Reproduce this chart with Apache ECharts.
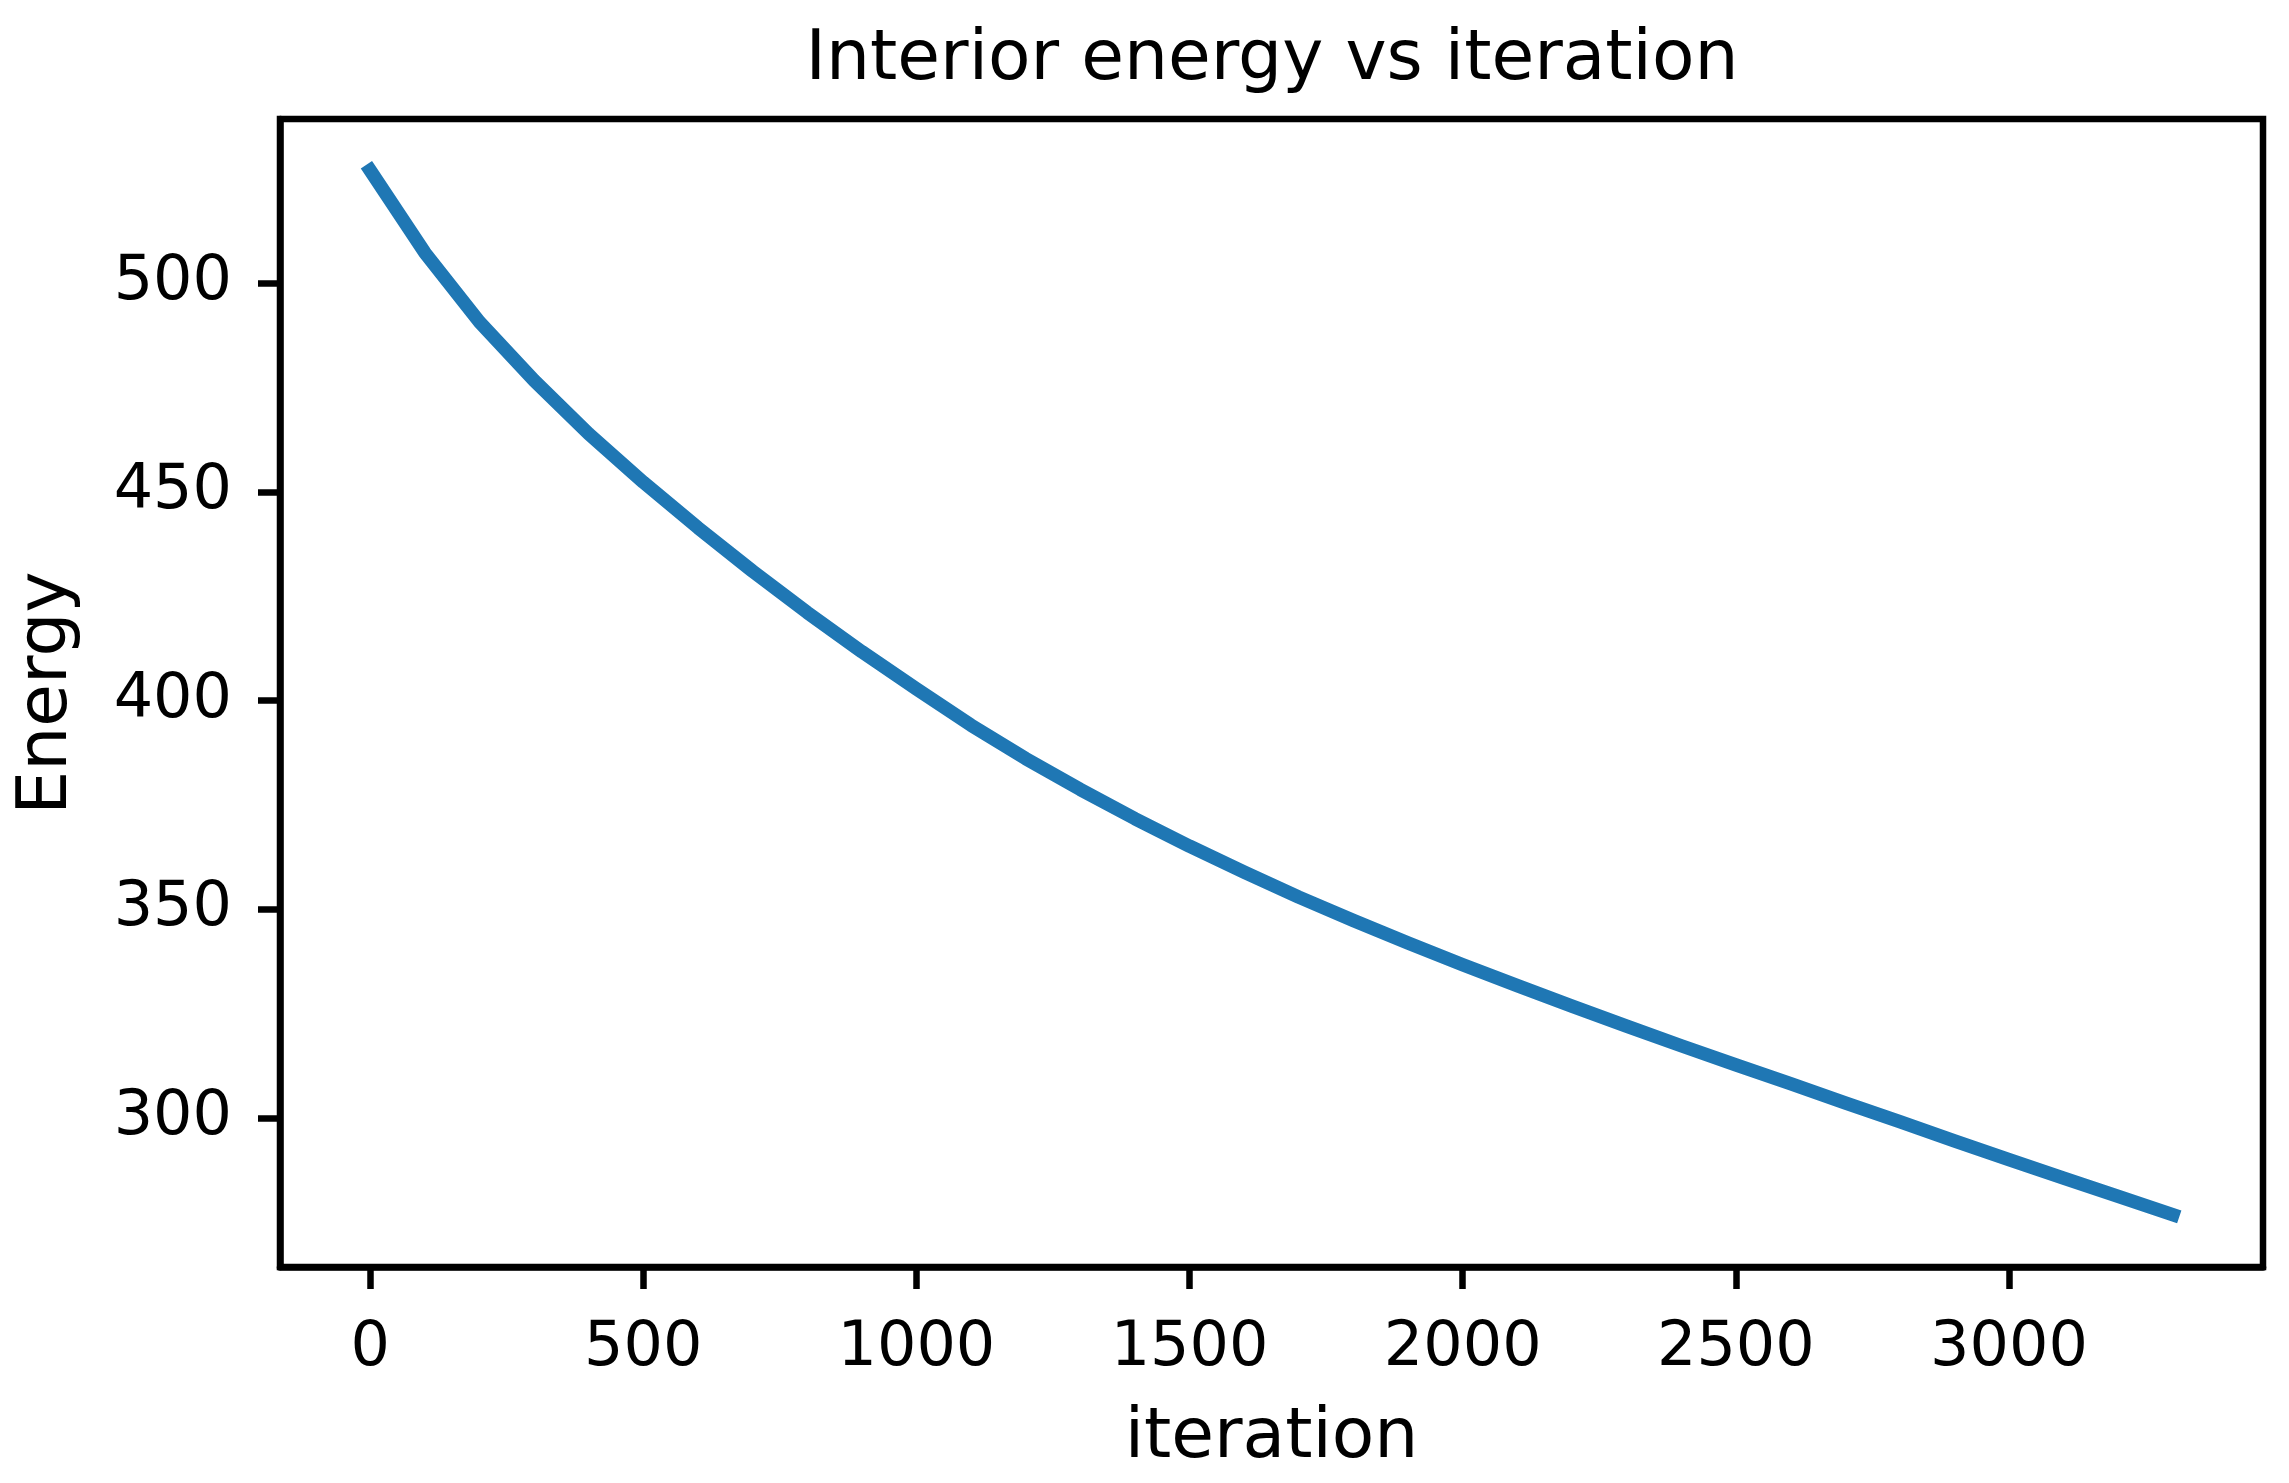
<!DOCTYPE html>
<html>
<head>
<meta charset="utf-8">
<script src="https://cdn.jsdelivr.net/npm/echarts@6/dist/echarts.min.js"></script>
<style>
html,body{margin:0;padding:0;background:#fff;}
#chart{width:2289px;height:1483px;}
</style>
</head>
<body>
<div id="chart"></div>
<script>
// iteration values (x)
const iterations = [0,100,200,300,400,500,600,700,800,900,1000,1100,1200,1300,1400,1500,1600,1700,1800,1900,2000,2100,2200,2300,2400,2500,2600,2700,2800,2900,3000,3100,3200,3300];
// interior energy values (y)
const energy = [527.0,507.3,490.7,476.7,463.9,452.3,441.4,431.0,421.1,411.7,402.8,394.1,386.1,378.7,371.7,365.1,358.9,352.9,347.3,341.9,336.7,331.7,326.8,322.0,317.3,312.7,308.2,303.6,299.1,294.5,290.0,285.6,281.2,276.8];
const xTicks = [0,500,1000,1500,2000,2500,3000];
const yTicks = [300,350,400,450,500];
const titleText = 'Interior energy vs iteration';
const xName = 'iteration';
const yName = 'Energy';

const FONT = 'DejaVu Sans';
const chart = echarts.init(document.getElementById('chart'), null, {renderer:'canvas'});

const xMin = -165, xMax = 3465;
const yMin = 264.3, yMax = 539.3;

chart.setOption({
  animation: false,
  backgroundColor: '#ffffff',
  title: {
    text: titleText,
    left: 1267,
    textAlign: 'center',
    top: 21,
    textStyle: {fontFamily: FONT, fontSize: 69.5, fontWeight: 'normal', color: '#000'}
  },
  grid: {
    left: 280, right: 26, top: 119, bottom: 216,
    show: true, borderColor: '#000', borderWidth: 6.5, backgroundColor: 'transparent'
  },
  xAxis: {
    type: 'value', min: xMin, max: xMax,
    name: xName, nameLocation: 'middle', nameGap: 137,
    nameTextStyle: {fontFamily: FONT, fontSize: 69.5, color: '#000'},
    axisLine: {show: true, onZero: false, lineStyle: {color: '#000', width: 6.5}},
    splitLine: {show: false},
    axisTick: {show: true, inside: false, length: 22, lineStyle: {color: '#000', width: 6.5}, customValues: xTicks},
    axisLabel: {show: true, margin: 51, fontFamily: FONT, fontSize: 62, color: '#000', customValues: xTicks, formatter: v => String(v)}
  },
  yAxis: {
    type: 'value', min: yMin, max: yMax,
    name: yName, nameLocation: 'middle', nameGap: 197, nameRotate: 90,
    nameTextStyle: {fontFamily: FONT, fontSize: 69.5, color: '#000'},
    axisLine: {show: true, onZero: false, lineStyle: {color: '#000', width: 6.5}},
    splitLine: {show: false},
    axisTick: {show: true, inside: false, length: 22, lineStyle: {color: '#000', width: 6.5}, customValues: yTicks},
    axisLabel: {show: true, margin: 48, fontFamily: FONT, fontSize: 62, color: '#000', customValues: yTicks, formatter: v => String(v)}
  },
  series: [{
    type: 'line',
    data: iterations.map((x, i) => [x, energy[i]]),
    showSymbol: false,
    symbol: 'none',
    smooth: false,
    lineStyle: {color: '#1f77b4', width: 13.5, cap: 'square', join: 'round'},
    clip: true
  }]
});
</script>
</body>
</html>
